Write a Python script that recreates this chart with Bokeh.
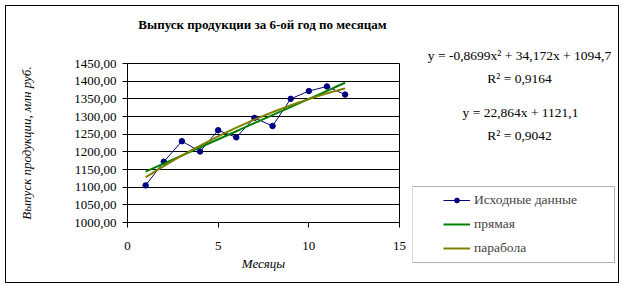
import numpy as np
from bokeh.plotting import figure
from bokeh.layouts import row, column
from bokeh.models import (BoxAnnotation, Label, Legend, LegendItem, FixedTicker,
                          CustomJSTickFormatter, Range1d)
from bokeh.embed import file_html
from bokeh.resources import INLINE

# ---- data ----
months = [1, 2, 3, 4, 5, 6, 7, 8, 9, 10, 11, 12]
output = [1105, 1172, 1230, 1201, 1261, 1241, 1296, 1273, 1350, 1372, 1385, 1362]
linear_coef = [22.864, 1121.1]            # y = a*x + b   (trend line shown on chart)
parab_coef = [-0.8699, 34.172, 1094.7]    # y = a*x^2 + b*x + c
y_ticks = [1000, 1050, 1100, 1150, 1200, 1250, 1300, 1350, 1400, 1450]
x_ticks = [0, 5, 10, 15]
title_text = "Выпуск продукции за 6-ой год по месяцам"
y_label = "Выпуск продукции, млн руб."
x_label = "Месяцы"
eq_texts = ["y = -0,8699x² + 34,172x + 1094,7", "R² = 0,9164",
            "y = 22,864x + 1121,1", "R² = 0,9042"]
legend_labels = ["Исходные данные", "прямая", "парабола"]

SERIF = "Liberation Serif"
NAVY, GREEN, OLIVE = "#000080", "#008000", "#808000"
W, H = 624, 288
H_TOP = 40          # strip holding the title
W_LEFT = 412
FL, FR, FT, FB = 127, 399, 63, 222  # main frame in page pixels


def blank(width, height, x0, x1, y0, y1):
    f = figure(width=width, height=height, x_range=Range1d(x0, x1),
               y_range=Range1d(y1, y0), output_backend="svg", toolbar_location=None,
               x_axis_type=None, y_axis_type=None, min_border=0)
    f.border_fill_color = None
    f.background_fill_color = None
    f.outline_line_color = None
    f.grid.visible = False
    return f


# ---------------- title strip ----------------
t = blank(W, H_TOP, 0, W, 0, H_TOP)
t.add_layout(Label(x=262, y=24, text=title_text, text_font=SERIF, text_font_size="13px",
                   text_font_style="bold", text_align="center", text_baseline="middle",
                   text_color="black"))

# ---------------- main chart ----------------
p = figure(width=W_LEFT, height=H - H_TOP, x_range=Range1d(0, 15),
           y_range=Range1d(1000, 1450), output_backend="svg", toolbar_location=None,
           min_border_left=FL, min_border_right=W_LEFT - FR,
           min_border_top=FT - H_TOP, min_border_bottom=H - FB)
p.border_fill_color = None
p.background_fill_color = "white"
p.outline_line_color = "black"
p.xgrid.visible = False
p.ygrid.grid_line_color = "black"
p.ygrid.ticker = FixedTicker(ticks=y_ticks)
p.yaxis.ticker = FixedTicker(ticks=y_ticks)
p.xaxis.ticker = FixedTicker(ticks=x_ticks)
p.yaxis.formatter = CustomJSTickFormatter(code="return tick.toFixed(2).replace('.', ',');")
for ax in (p.xaxis, p.yaxis):
    ax.axis_line_color = "black"
    ax.major_tick_line_color = "black"
    ax.minor_tick_line_color = None
    ax.major_tick_in = 0
    ax.major_tick_out = 5
    ax.major_label_text_font = SERIF
    ax.major_label_text_font_size = "13px"
    ax.major_label_text_color = "black"
    ax.axis_label_text_font = SERIF
    ax.axis_label_text_font_size = "13px"
    ax.axis_label_text_font_style = "italic"
    ax.axis_label_text_color = "black"
p.xaxis.major_label_standoff = 14
p.yaxis.major_label_standoff = 6
p.yaxis.axis_label = y_label
p.xaxis.axis_label = x_label
p.yaxis.axis_label_standoff = 37
p.xaxis.axis_label_standoff = 3

xs = np.linspace(months[0], months[-1], 60)
lin_y = linear_coef[0] * xs + linear_coef[1]
par_y = parab_coef[0] * xs ** 2 + parab_coef[1] * xs + parab_coef[2]

p.line(months, output, line_color=NAVY, line_width=1)
p.scatter(months, output, size=5.5, fill_color=NAVY, line_color=NAVY)
p.line(xs, lin_y, line_color=GREEN, line_width=2)
p.line(xs, par_y, line_color=OLIVE, line_width=2)

# ---------------- right side: equations + legend ----------------
q = blank(W - W_LEFT, H - H_TOP, W_LEFT, W, H_TOP, H)

for fig in (t, p, q):
    if "frame_align" in fig.properties():
        fig.frame_align = False

for (px, py), txt in zip([(519, 55), (519, 78), (520, 112), (519, 135)], eq_texts):
    q.add_layout(Label(x=px, y=py, text=txt, text_font=SERIF, text_font_size="13.5px",
                       text_align="center", text_baseline="middle", text_color="black"))

q.add_layout(BoxAnnotation(left=412, right=614, top=186, bottom=262,
                           fill_alpha=0, line_color="black", line_width=1))

nan = [float("nan")]
l_data = q.line(x=nan, y=nan, line_color=NAVY, line_width=1)
s_data = q.scatter(x=nan, y=nan, size=5, fill_color=NAVY, line_color=NAVY)
l_lin = q.line(x=nan, y=nan, line_color=GREEN, line_width=2)
l_par = q.line(x=nan, y=nan, line_color=OLIVE, line_width=2)

legend = Legend(items=[LegendItem(label=legend_labels[0], renderers=[l_data, s_data]),
                       LegendItem(label=legend_labels[1], renderers=[l_lin]),
                       LegendItem(label=legend_labels[2], renderers=[l_par])],
                location=(439 - W_LEFT, H - 262), padding=4, margin=0, spacing=4,
                label_height=20, glyph_height=12, glyph_width=27, label_standoff=4,
                label_text_font=SERIF, label_text_font_size="13.5px",
                border_line_alpha=0, background_fill_alpha=0)
q.add_layout(legend, "center")

layout = column(t, row(p, q), styles={"outline": "1px solid black",
                                      "outline-offset": "-6px"})

open("out.html", "w").write(file_html(layout, INLINE))
